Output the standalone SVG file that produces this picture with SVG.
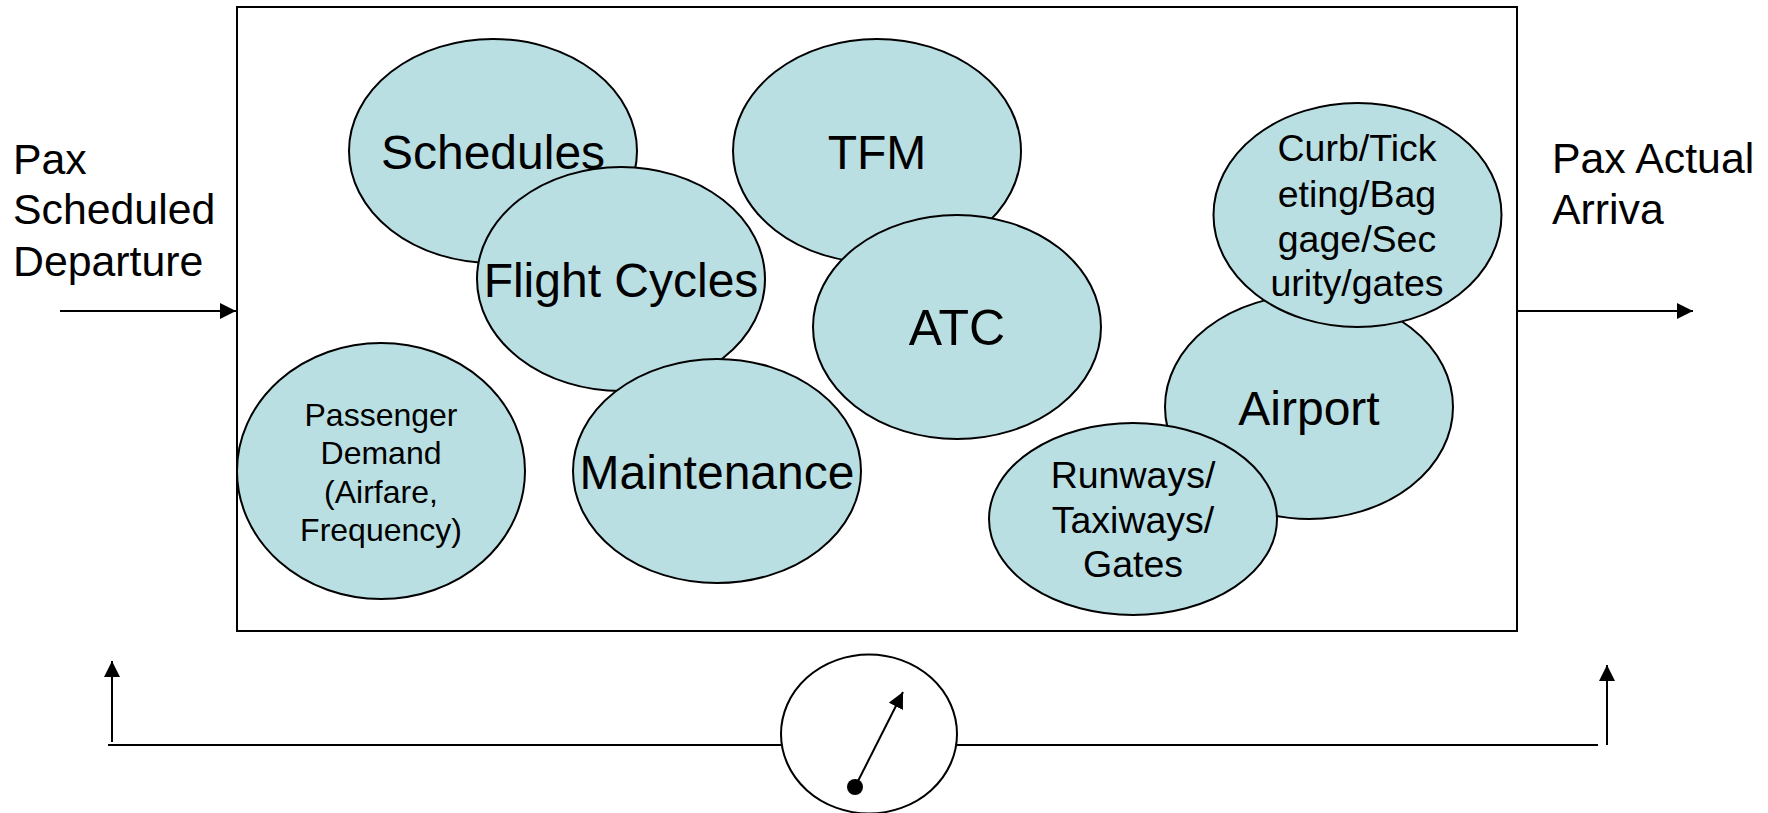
<svg xmlns="http://www.w3.org/2000/svg" width="1768" height="813" viewBox="0 0 1768 813">
<style>
.b{fill:#b9dfe3;stroke:#000;stroke-width:2}
.l{stroke:#000;stroke-width:2;fill:none}
text{font-family:"Liberation Sans",Arial,sans-serif;fill:#000;text-anchor:middle}
.t48{font-size:48px}.t37{font-size:37.500px}.t32{font-size:32px}
.s{font-size:42.800px;text-anchor:start}
</style>
<defs>
<marker id="a" markerUnits="userSpaceOnUse" markerWidth="16" markerHeight="16" refX="16" refY="8" orient="auto"><path d="M0 0L16 8L0 16Z"/></marker>
</defs>
<rect width="1768" height="813" fill="#fff"/>
<g id="frame"><rect x="237" y="7" width="1280" height="624" fill="#fff" stroke="#000" stroke-width="2"/></g>
<g id="schedules"><ellipse class="b" cx="493" cy="151" rx="144" ry="112"/><text class="t48" x="493" y="169">Schedules</text></g>
<g id="flight-cycles"><ellipse class="b" cx="621" cy="279" rx="144" ry="112"/><text class="t48" x="621" y="297">Flight Cycles</text></g>
<g id="maintenance"><ellipse class="b" cx="717" cy="471" rx="144" ry="112"/><text class="t48" x="717" y="489">Maintenance</text></g>
<g id="passenger-demand"><ellipse class="b" cx="381" cy="471" rx="144" ry="128"/><text class="t32" x="381" y="426">Passenger</text><text class="t32" x="381" y="464">Demand</text><text class="t32" x="381" y="503">(Airfare,</text><text class="t32" x="381" y="541">Frequency)</text></g>
<g id="tfm"><ellipse class="b" cx="877" cy="151" rx="144" ry="112"/><text class="t48" x="877" y="169">TFM</text></g>
<g id="atc"><ellipse class="b" cx="957" cy="327" rx="144" ry="112"/><text class="t48" x="957" y="345" style="font-size:50px">ATC</text></g>
<g id="airport"><ellipse class="b" cx="1309" cy="407" rx="144" ry="112"/><text class="t48" x="1309" y="425">Airport</text></g>
<g id="runways"><ellipse class="b" cx="1133" cy="519" rx="144" ry="96"/><text class="t37" x="1133" y="488">Runways/</text><text class="t37" x="1133" y="533">Taxiways/</text><text class="t37" x="1133" y="577">Gates</text></g>
<g id="curb"><ellipse class="b" cx="1357.500" cy="215" rx="144" ry="112"/><text class="t37" x="1357" y="161">Curb/Tick</text><text class="t37" x="1357" y="207">eting/Bag</text><text class="t37" x="1357" y="252">gage/Sec</text><text class="t37" x="1357" y="296">urity/gates</text></g>
<g id="dial"><ellipse cx="869" cy="734" rx="88" ry="79.500" fill="#fff" stroke="#000" stroke-width="2"/><circle cx="855" cy="787" r="8"/></g>
<g id="labels"><text class="s" x="13" y="174">Pax</text><text class="s" x="13" y="224">Scheduled</text><text class="s" x="13" y="276">Departure</text><text class="s" x="1552" y="173">Pax Actual</text><text class="s" x="1552" y="224">Arriva</text></g>
<g id="connectors">
<line class="l" x1="60" y1="311" x2="236" y2="311" marker-end="url(#a)"/>
<line class="l" x1="1518" y1="311" x2="1693" y2="311" marker-end="url(#a)"/>
<line class="l" x1="108" y1="745" x2="781" y2="745"/>
<line class="l" x1="957" y1="745" x2="1598" y2="745"/>
<line class="l" x1="112" y1="742" x2="112" y2="661" marker-end="url(#a)"/>
<line class="l" x1="1607" y1="745" x2="1607" y2="665" marker-end="url(#a)"/>
<line class="l" x1="855" y1="787" x2="903" y2="692" marker-end="url(#a)"/>
</g>
</svg>
